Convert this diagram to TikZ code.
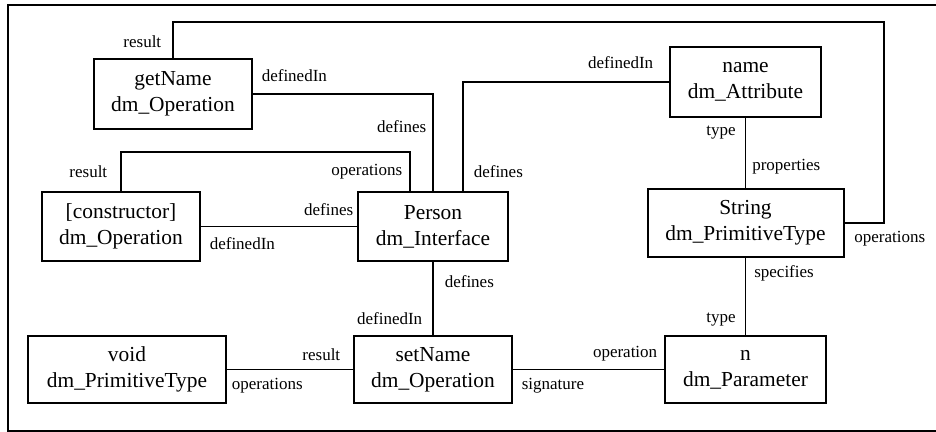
\documentclass[tikz,border=0pt]{standalone}
\usepackage{fontspec}
\setmainfont{Liberation Serif}
\usetikzlibrary{positioning, calc}

\tikzset{
  cls/.style={draw, line width=1pt, align=center, inner sep=0pt,
    font=\fontsize{10.7}{13}\selectfont},
  role/.style={inner sep=0pt, font=\fontsize{8.5}{10}\selectfont},
  assoc/.style={line width=0.8pt},
}

\begin{document}
\begin{tikzpicture}[x=0.5pt, y=-0.5pt, node distance=70pt, on grid]
    \useasboundingbox (0,0) rectangle (936,432);
    \draw[line width=1pt] (8,5) rectangle (950,431);

    % classes
    \node[cls, minimum width=79pt, minimum height=35pt] (getName) at (173,94) {getName\\dm\_Operation};
    \node[cls, minimum width=75pt, minimum height=34.5pt] (Person) at (433,226.5) {Person\\dm\_Interface};
    \node[cls, minimum width=79pt, minimum height=34.5pt] (ctor) [left=156pt of Person] {[constructor]\\dm\_Operation};
    \node[cls, minimum width=79pt, minimum height=33.5pt] (setName) [below=71.5pt of Person] {setName\\dm\_Operation};
    \node[cls, minimum width=99pt, minimum height=33.5pt] (void) [left=153pt of setName] {void\\dm\_PrimitiveType};
    \node[cls, minimum width=75.5pt, minimum height=35pt] (name) at (745.5,82) {name\\dm\_Attribute};
    \node[cls, minimum width=98pt, minimum height=34pt] (String) [below=70.5pt of name] {String\\dm\_PrimitiveType};
    \node[cls, minimum width=80.5pt, minimum height=33.5pt] (param) [below=73.25pt of String] {n\\dm\_Parameter};

    \coordinate (topbend) at (884,22);
    \coordinate (opsbend) at (410,152);

    % associations
    \draw[assoc] (getName.north) |- (topbend)
        node[role, at start, anchor=south east, xshift=-5.5pt, yshift=5pt] {result}
        |- (String.east)
        node[role, at end, anchor=north west, xshift=4.5pt, yshift=-3.5pt] {operations};
    \draw[assoc] (getName.east) -| node[role, pos=0.67, anchor=east, xshift=-3pt] {defines} (Person.north)
        node[role, at start, anchor=south west, xshift=4pt, yshift=6pt] {definedIn};
    \draw[assoc] (ctor.north) |- node[role, pos=0.25, anchor=east, xshift=-6.5pt] {result} (opsbend)
        -- node[role, midway, anchor=east, xshift=-3.5pt] {operations} (opsbend |- Person.north);
    \draw[assoc] (ctor.east) -- (Person.west)
        node[role, at start, anchor=north west, xshift=4pt, yshift=-5pt] {definedIn}
        node[role, at end, anchor=south east, xshift=-1.5pt, yshift=5pt] {defines};
    \draw[assoc] ($(Person.north)+(30,0)$) |- (name.west)
        node[role, at start, anchor=south west, xshift=5pt, yshift=6.5pt] {defines}
        node[role, at end, anchor=south east, xshift=-7.5pt, yshift=6.5pt] {definedIn};
    \draw[assoc] (name.south) -- (String.north)
        node[role, at start, anchor=north east, xshift=-4.5pt, yshift=-3.5pt] {type}
        node[role, at end, anchor=south west, xshift=3pt, yshift=6.5pt] {properties};
    \draw[assoc] (Person.south) -- (setName.north)
        node[role, at start, anchor=north west, xshift=5.5pt, yshift=-6.5pt] {defines}
        node[role, at end, anchor=south east, xshift=-5pt, yshift=5pt] {definedIn};
    \draw[assoc] (void.east) -- (setName.west)
        node[role, at start, anchor=north west, xshift=2pt, yshift=-4pt] {operations}
        node[role, at end, anchor=south east, xshift=-6pt, yshift=4pt] {result};
    \draw[assoc] (setName.east) -- (param.west)
        node[role, at start, anchor=north west, xshift=4pt, yshift=-4pt] {signature}
        node[role, at end, anchor=south east, xshift=-3pt, yshift=4pt] {operation};
    \draw[assoc] (String.south) -- (param.north)
        node[role, at start, anchor=north west, xshift=4pt, yshift=-3.5pt] {specifies}
        node[role, at end, anchor=south east, xshift=-4.5pt, yshift=4pt] {type};
\end{tikzpicture}
\end{document}
